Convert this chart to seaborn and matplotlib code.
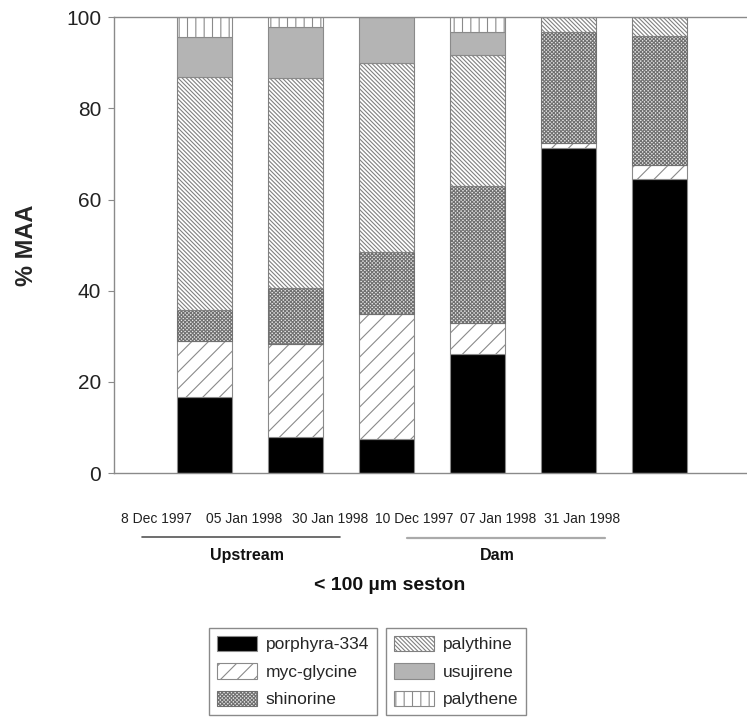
import matplotlib
matplotlib.use("Agg")
import matplotlib.pyplot as plt
from matplotlib.patches import Patch
import numpy as np
import pandas as pd
import seaborn as sns

# -------------------------------------------------------------------------
# Data (percent of total MAA)
# -------------------------------------------------------------------------
DATES = ["8 Dec 1997", "05 Jan 1998", "30 Jan 1998",
         "10 Dec 1997", "07 Jan 1998", "31 Jan 1998"]
SITES = ["Upstream", "Dam"]
COMPOUNDS = ["porphyra-334", "myc-glycine", "shinorine",
             "palythine", "usujirene", "palythene"]

porphyra_334 = [16.7, 7.9, 7.5, 26.1, 71.3, 64.5]
myc_glycine = [12.3, 20.4, 27.4, 6.8, 1.1, 3.0]
shinorine = [6.7, 12.3, 13.6, 30.1, 24.3, 28.3]
palythine = [51.1, 46.0, 41.4, 28.8, 3.3, 4.2]
usujirene = [8.8, 11.2, 10.1, 4.9, 0.0, 0.0]
palythene = [4.4, 2.2, 0.0, 3.3, 0.0, 0.0]

YTICKS = [0, 20, 40, 60, 80, 100]

# -------------------------------------------------------------------------
# Styles
# -------------------------------------------------------------------------
EDGE = "#8a8a8a"
STYLES = {
    "porphyra-334": dict(face="black", hatch=None, edge=EDGE),
    "myc-glycine": dict(face="white", hatch="//", edge=EDGE),
    "shinorine": dict(face="#e6e6e6", hatch="x" * 9, edge="#707070"),
    "palythine": dict(face="white", hatch="\\" * 8, edge="#808080"),
    "usujirene": dict(face="#b4b4b4", hatch=None, edge=EDGE),
    "palythene": dict(face="white", hatch="||", edge=EDGE),
}
# where the date labels sit (they are offset from the bars in the original)
LABEL_POS = [-0.53, 0.43, 1.38, 2.30, 3.22, 4.15]

sns.set_style("white")
plt.rcParams["font.family"] = ["Liberation Sans", "DejaVu Sans"]
plt.rcParams["hatch.linewidth"] = 0.8

fig = plt.figure(figsize=(7.47, 7.2), dpi=100)
ax = fig.add_axes([0.152, 0.343, 0.853, 0.633])

series = [porphyra_334, myc_glycine, shinorine, palythine, usujirene, palythene]
bottom = np.zeros(len(DATES))
for name, vals in zip(COMPOUNDS, series):
    sub = pd.DataFrame({"date": DATES, "pct": vals})
    st = STYLES[name]
    sns.barplot(data=sub, x="date", y="pct", order=DATES,
                color=st["face"], saturation=1, width=0.6,
                edgecolor=st["edge"], linewidth=0.8, hatch=st["hatch"],
                bottom=bottom.copy(), errorbar=None, ax=ax)
    bottom += np.array(vals)

ax.set_xlim(-1, 6)
ax.set_ylim(0, 100)
ax.set_yticks(YTICKS)
ax.set_xticks(LABEL_POS, DATES)
ax.tick_params(axis="x", length=0, pad=28, labelsize=10, labelcolor="#222222")
ax.tick_params(axis="y", length=4, width=0.8, color=EDGE, pad=5,
               labelsize=15, labelcolor="#222222", left=True)
ax.set_xlabel("")
ax.set_ylabel("% MAA", fontsize=17, fontweight="bold", labelpad=20)
for side in ["left", "top", "bottom"]:
    ax.spines[side].set_visible(True)
    ax.spines[side].set_color(EDGE)
    ax.spines[side].set_linewidth(1.0)
ax.spines["right"].set_visible(False)

# site groups under the date labels
trans = ax.get_xaxis_transform()
ax.plot([-0.69, 1.49], [-0.140, -0.140], color="#555555", lw=1.2,
        transform=trans, clip_on=False)
ax.plot([2.22, 4.40], [-0.142, -0.142], color="#aaaaaa", lw=1.6,
        transform=trans, clip_on=False)
ax.text(0.47, -0.18, SITES[0], transform=trans, ha="center", va="center",
        fontsize=11.5, fontweight="bold", color="#111111")
ax.text(3.22, -0.18, SITES[1], transform=trans, ha="center", va="center",
        fontsize=11.5, fontweight="bold", color="#111111")

fig.text(0.522, 0.1875, "< 100 µm seston", ha="center", va="center",
         fontsize=14, fontweight="bold", color="#111111")

# legends: two boxes of three entries each
handles = [Patch(facecolor=STYLES[c]["face"], edgecolor=STYLES[c]["edge"],
                 hatch=STYLES[c]["hatch"], linewidth=0.8, label=c)
           for c in COMPOUNDS]
legend_kw = dict(loc="upper left", fontsize=12.5, frameon=True,
                 fancybox=False, framealpha=1, edgecolor=EDGE,
                 handlelength=2.3, handleheight=1.0, handletextpad=0.5,
                 borderpad=0.45, labelspacing=0.62, borderaxespad=0)
leg1 = fig.legend(handles=handles[:3], bbox_to_anchor=(0.28, 0.128), **legend_kw)
leg2 = fig.legend(handles=handles[3:], bbox_to_anchor=(0.517, 0.128), **legend_kw)
for leg in (leg1, leg2):
    leg.get_frame().set_linewidth(1.0)

fig.savefig("out.png", dpi=100)
